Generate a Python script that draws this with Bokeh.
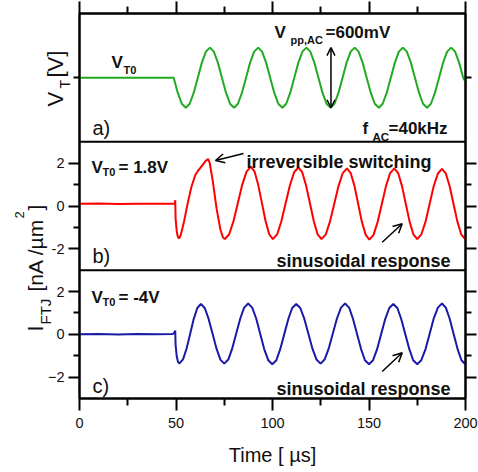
import math
from bokeh.plotting import figure
from bokeh.models import (Range1d, LinearAxis, FixedTicker, Label, Arrow, OpenHead, Span,
                          GridBox, CustomLabelingPolicy)
from bokeh.embed import file_html
from bokeh.resources import INLINE

# ---------------- data ----------------
x_major_ticks = [0, 50, 100, 150, 200]
x_minor_ticks = [25, 75, 125, 175]

# a) applied voltage V_T (relative to V_T0), volts
t_green = [0, 20, 40, 48.8, 50.9, 53.0, 55.1, 57.1, 59.2, 61.3, 63.4, 65.5, 67.6, 69.6, 71.7,
           73.8, 75.9, 78.0, 80.1, 82.1, 84.2, 86.3, 88.4, 90.5, 92.6, 94.6, 96.7,
           98.8, 100.9, 103.0, 105.1, 107.1, 109.2, 111.3, 113.4, 115.5, 117.6, 119.6, 121.7,
           123.8, 125.9, 128.0, 130.1, 132.1, 134.2, 136.3, 138.4, 140.5, 142.6, 144.6, 146.7,
           148.8, 150.9, 153.0, 155.1, 157.1, 159.2, 161.3, 163.4, 165.5, 167.6, 169.6, 171.7,
           173.8, 175.9, 178.0, 180.1, 182.1, 184.2, 186.3, 188.4, 190.5, 192.6, 194.6, 196.7,
           198.8, 200]
v_green = [0, 0, 0, 0, -0.15, -0.26, -0.30, -0.26, -0.15, 0, 0.15, 0.26, 0.30, 0.26, 0.15,
           0, -0.15, -0.26, -0.30, -0.26, -0.15, 0, 0.15, 0.26, 0.30, 0.26, 0.15,
           0, -0.15, -0.26, -0.30, -0.26, -0.15, 0, 0.15, 0.26, 0.30, 0.26, 0.15,
           0, -0.15, -0.26, -0.30, -0.26, -0.15, 0, 0.15, 0.26, 0.30, 0.26, 0.15,
           0, -0.15, -0.26, -0.30, -0.26, -0.15, 0, 0.15, 0.26, 0.30, 0.26, 0.15,
           0, -0.15, -0.26, -0.30, -0.26, -0.15, 0, 0.15, 0.26, 0.30, 0.26, 0.15,
           0, -0.04]

# b) current density at V_T0 = 1.8 V, nA/um^2
t_red = [0, 10, 20, 30, 40, 49.4, 49.6, 49.8, 50.4, 51.0, 51.6,
         52.5, 54.0, 56.0, 58.0, 60.0, 61.5, 62.6, 64.0, 65.5, 66.6,
         67.5, 69.0, 71.0, 73.0, 74.3, 75.3,
         77.55, 79.8, 82.05, 84.3, 86.55, 88.8,
         90.7, 92.6, 94.5, 96.4, 98.3, 100.2,
         102.4, 104.6, 106.8, 109.0, 111.2, 113.4,
         115.4, 117.4, 119.4, 121.4, 123.4, 125.4,
         127.6, 129.8, 132.0, 134.2, 136.4, 138.6,
         140.5, 142.5, 144.4, 146.3, 148.3, 150.2,
         152.35, 154.5, 156.65, 158.8, 160.95, 163.1,
         165.1, 167.1, 169.05, 171.0, 173.0, 175.0,
         177.1, 179.3, 181.4, 183.5, 185.7, 187.8,
         189.8, 191.8, 193.8, 195.8, 197.8, 199.8, 200]
i_red = [0.10, 0.12, 0.09, 0.11, 0.10, 0.11, 0.27, -0.6, -1.2, -1.45, -1.52,
         -1.35, -0.8, 0.1, 0.9, 1.45, 1.66, 1.78, 1.95, 2.12, 2.2,
         2.0, 1.2, -0.1, -1.1, -1.46, -1.55,
         -1.32, -0.70, 0.145, 0.99, 1.61, 1.84,
         1.61, 0.99, 0.145, -0.70, -1.32, -1.55,
         -1.33, -0.71, 0.125, 0.96, 1.58, 1.80,
         1.58, 0.96, 0.125, -0.71, -1.33, -1.55,
         -1.33, -0.72, 0.105, 0.93, 1.54, 1.76,
         1.54, 0.93, 0.095, -0.74, -1.35, -1.57,
         -1.35, -0.74, 0.095, 0.93, 1.54, 1.76,
         1.54, 0.93, 0.105, -0.72, -1.33, -1.55,
         -1.33, -0.73, 0.095, 0.92, 1.52, 1.74,
         1.52, 0.92, 0.095, -0.73, -1.33, -1.55, -1.55]

# c) current density at V_T0 = -4 V, nA/um^2
t_blue = [0, 10, 20, 30, 40, 48.5, 49.3, 49.6, 49.8, 50.4, 51.1, 51.8,
          53.65, 55.5, 57.35, 59.2, 61.05, 62.9,
          64.9, 66.9, 68.95, 71.0, 73.0, 75.0,
          77.1, 79.1, 81.2, 83.3, 85.3, 87.4,
          89.5, 91.6, 93.65, 95.7, 97.8, 99.9,
          102.0, 104.0, 106.1, 108.2, 110.2, 112.3,
          114.4, 116.5, 118.6, 120.7, 122.8, 124.9,
          127.0, 129.1, 131.25, 133.4, 135.5, 137.6,
          139.7, 141.7, 143.8, 145.9, 147.9, 150.0,
          152.1, 154.2, 156.3, 158.4, 160.5, 162.6,
          164.7, 166.7, 168.8, 170.9, 172.9, 175.0,
          177.1, 179.3, 181.4, 183.5, 185.7, 187.8,
          189.8, 191.8, 193.85, 195.9, 197.9, 199.9, 200]
i_blue = [0.0, 0.02, -0.01, 0.01, 0.0, 0.02, 0.10, 0.18, -0.5, -1.05, -1.3, -1.36,
          -1.17, -0.665, 0.03, 0.725, 1.23, 1.42,
          1.23, 0.72, 0.025, -0.67, -1.18, -1.37,
          -1.18, -0.67, 0.035, 0.74, 1.25, 1.44,
          1.25, 0.73, 0.02, -0.69, -1.21, -1.40,
          -1.21, -0.695, 0.01, 0.715, 1.23, 1.42,
          1.23, 0.72, 0.025, -0.67, -1.18, -1.37,
          -1.18, -0.67, 0.035, 0.74, 1.25, 1.44,
          1.25, 0.73, 0.02, -0.69, -1.21, -1.40,
          -1.21, -0.695, 0.01, 0.715, 1.23, 1.42,
          1.23, 0.715, 0.01, -0.695, -1.21, -1.40,
          -1.21, -0.69, 0.02, 0.73, 1.25, 1.44,
          1.25, 0.73, 0.02, -0.69, -1.21, -1.40, -1.40]

v_pp = 0.6  # peak-to-peak amplitude of V_AC, volts
# ---------------------------------------------------------------

FONT = "Liberation Sans"
W, H = 478, 472
FX0, FX1, FY0, FY1 = 79, 465, 13, 398


def dx(px):
    return (px - FX0) * 200.0 / (FX1 - FX0)


def dy(py):
    return 15.0 - (py - FY0) * 18.0 / (FY1 - FY0)


p = figure(width=W, height=H, x_range=Range1d(0, 200), y_range=Range1d(-3, 15),
           output_backend="svg", toolbar_location=None,
           min_border_left=FX0, min_border_right=W - FX1,
           min_border_top=FY0, min_border_bottom=H - FY1)
p.frame_align = False
p.extra_y_ranges = {"a": Range1d(-3.2, 0.64), "b": Range1d(-9, 9)}
p.grid.visible = False
p.outline_line_color = "black"
p.outline_line_width = 2
p.background_fill_color = "white"
p.border_fill_color = "white"

# bottom axis
xa = p.xaxis[0]
xa.ticker = FixedTicker(ticks=x_major_ticks, minor_ticks=x_minor_ticks)
xa.axis_label = "Time [ µs]"
xa.axis_label_text_font = FONT
xa.axis_label_text_font_size = "20px"
xa.axis_label_text_font_style = "normal"
xa.axis_label_text_color = "#111111"
xa.axis_label_standoff = 13
xa.major_label_text_font = FONT
xa.major_label_text_font_size = "14.5px"
xa.major_label_text_color = "#111111"
xa.major_label_standoff = 7

# left axis
ya = p.yaxis[0]
ya.ticker = FixedTicker(ticks=[-2, 0, 2, 4, 6, 8], minor_ticks=[-1, 1, 5, 7, 12])
ya.major_label_overrides = {4: "-2", 6: "0", 8: "2"}
ya.major_label_text_font = FONT
ya.major_label_text_font_size = "14.5px"
ya.major_label_text_color = "#111111"
ya.major_label_standoff = 4

top_ax = LinearAxis(ticker=FixedTicker(ticks=x_major_ticks, minor_ticks=x_minor_ticks),
                    major_label_text_font_size="0px", major_label_standoff=0,
                    major_label_policy=CustomLabelingPolicy(code="return [];"))
p.add_layout(top_ax, "above")
right_ax = LinearAxis(ticker=FixedTicker(ticks=[-2, 0, 2, 4, 6, 8], minor_ticks=[-1, 1, 5, 7, 12]),
                      major_label_text_font_size="0px", major_label_standoff=0,
                      major_label_policy=CustomLabelingPolicy(code="return [];"))
p.add_layout(right_ax, "right")

for ax in [xa, top_ax]:
    ax.major_tick_out = 12
    ax.minor_tick_out = 7
for ax in [ya, right_ax]:
    ax.major_tick_out = 11
    ax.minor_tick_out = 6
for ax in [xa, ya, top_ax, right_ax]:
    ax.major_tick_in = 0
    ax.minor_tick_in = 0
    ax.axis_line_width = 2
    ax.axis_line_color = "black"
    ax.major_tick_line_width = 2
    ax.minor_tick_line_width = 2
    ax.major_tick_line_color = "black"
    ax.minor_tick_line_color = "black"

# panel separators
p.add_layout(Span(location=3, dimension="width", line_color="black", line_width=2))
p.add_layout(Span(location=9, dimension="width", line_color="black", line_width=2))

# curves
p.line(t_green, v_green, y_range_name="a", line_color="#22aa22", line_width=2)
p.line(t_red, i_red, y_range_name="b", line_color="#ff0000", line_width=2)
p.line(t_blue, i_blue, line_color="#1a1aa6", line_width=2)


def lab(text, px, py, size, bold=True, angle=0.0):
    p.add_layout(Label(x=dx(px), y=dy(py), text=text, text_font=FONT,
                       text_font_size=f"{size}px",
                       text_font_style="bold" if bold else "normal",
                       text_color="#111111", text_baseline="alphabetic",
                       text_align="left", angle=angle))


def arrow(x0, y0, x1, y1):
    p.add_layout(Arrow(x_start=dx(x0), y_start=dy(y0), x_end=dx(x1), y_end=dy(y1),
                       line_width=1.5, line_color="black",
                       end=OpenHead(size=9, line_width=1.5, line_color="black")))


# panel a annotations
lab("V", 111, 62, 17)
lab("T0", 123, 69, 11)
lab("V", 274, 32, 17)
lab("pp,AC", 290, 39, 11)
lab("=600mV", 325, 32, 17)
lab("f", 362, 128, 17)
lab("AC", 372, 136, 11.5)
lab("=40kHz", 388, 128, 17)
lab("a)", 92, 127, 20, bold=False)
p.add_layout(Arrow(x_start=130.3, y_start=-v_pp / 2, x_end=130.3, y_end=v_pp / 2,
                   y_range_name="a", line_width=1.5, line_color="black",
                   start=OpenHead(size=8, line_width=1.5, line_color="black"),
                   end=OpenHead(size=8, line_width=1.5, line_color="black")))

# panel b annotations
lab("V", 91, 167, 17)
lab("T0", 102, 171, 11)
lab("= 1.8V", 118, 167, 17)
lab("irreversible switching", 246, 161, 18)
arrow(243, 153, 215, 160)
lab("sinusoidal response", 276, 260, 18)
arrow(381.7, 241.7, 401.7, 223.3)
lab("b)", 92, 255, 20, bold=False)

# panel c annotations
lab("V", 91, 297, 17)
lab("T0", 102, 301, 11)
lab("= -4V", 118, 297, 17)
lab("sinusoidal response", 276, 388, 18)
arrow(381.7, 371, 401.7, 352.3)
lab("c)", 92, 385, 20, bold=False)

# transparent overlay (same size) carrying the rotated y-axis titles,
# so that they can sit outside the data frame of the main figure
ov = figure(width=W, height=H, x_range=Range1d(0, W), y_range=Range1d(H, 0),
            output_backend="svg", toolbar_location=None,
            x_axis_type=None, y_axis_type=None, min_border=0,
            outline_line_color=None, background_fill_color=None, border_fill_color=None)
ov.frame_align = False
ov.grid.visible = False


def vlab(text, px, py, size):
    ov.add_layout(Label(x=px, y=py, text=text, text_font=FONT,
                        text_font_size=f"{size}px", text_font_style="normal",
                        text_color="#111111", text_baseline="alphabetic",
                        text_align="left", angle=math.pi / 2))


vlab("V", 55, 106, 22)
vlab("T", 64, 88, 14)
vlab("[V]", 55, 77, 22)
vlab("I", 35, 331, 22)
vlab("FTJ", 45, 324, 15)
vlab("[nA /µm", 35, 291, 21)
vlab("2", 19, 218, 13)
vlab("]", 35, 210, 21)

layout = GridBox(children=[(p, 0, 0), (ov, 0, 0)])
open("out.html", "w").write(file_html(layout, INLINE))
